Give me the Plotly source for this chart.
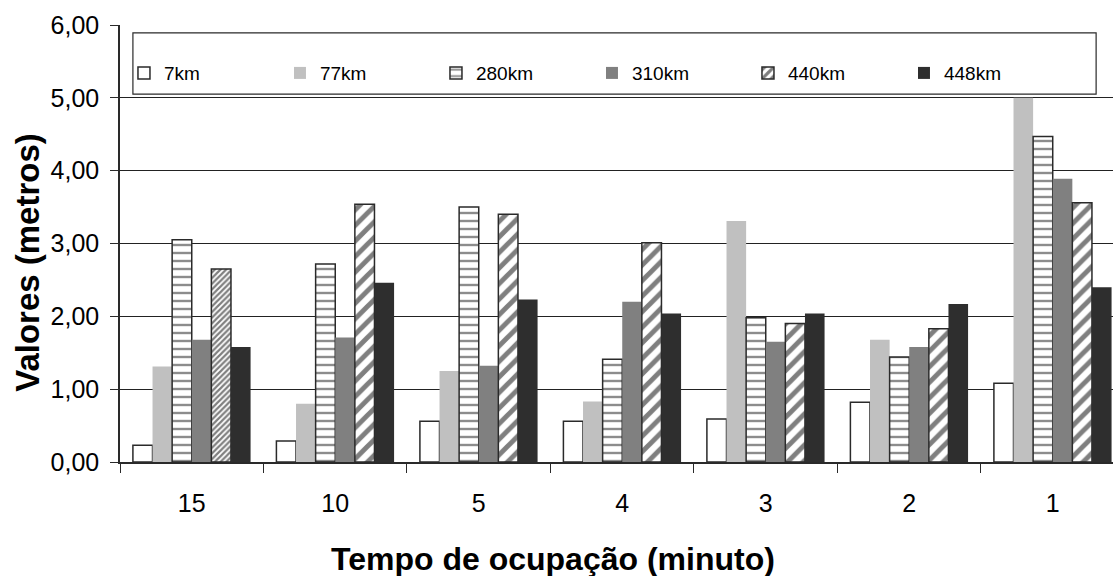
import plotly.graph_objects as go

# Categories (occupation time, minutes) and series (distance)
categorias = ["15", "10", "5", "4", "3", "2", "1"]
series = ["7km", "77km", "280km", "310km", "440km", "448km"]

v_7km = [0.23, 0.29, 0.56, 0.56, 0.59, 0.82, 1.08]
v_77km = [1.31, 0.80, 1.25, 0.83, 3.31, 1.68, 5.00]
v_280km = [3.05, 2.72, 3.50, 1.41, 1.98, 1.44, 4.47]
v_310km = [1.68, 1.71, 1.32, 2.20, 1.65, 1.58, 3.89]
v_440km = [2.65, 3.54, 3.40, 3.01, 1.90, 1.83, 3.56]
v_448km = [1.58, 2.46, 2.23, 2.04, 2.04, 2.17, 2.40]

y_ticks = [0, 1, 2, 3, 4, 5, 6]

FONT = "Arial"
EDGE = "#2a2a2a"

fig = go.Figure()

# white bars with outline
fig.add_bar(name=series[0], x=categorias, y=v_7km,
            marker=dict(color="white", line=dict(color=EDGE, width=1.5)))
# light grey
fig.add_bar(name=series[1], x=categorias, y=v_77km,
            marker=dict(color="#c0c0c0", line=dict(color="#c0c0c0", width=0)))
# horizontal stripes
fig.add_bar(name=series[2], x=categorias, y=v_280km,
            marker=dict(color="white", line=dict(color=EDGE, width=1.5),
                        pattern=dict(shape="-", fgcolor="#1a1a1a", bgcolor="white",
                                     size=8, solidity=0.3, fillmode="overlay")))
# mid grey
fig.add_bar(name=series[3], x=categorias, y=v_310km,
            marker=dict(color="#808080", line=dict(color="#808080", width=0)))
# diagonal stripes (first point uses a fine hatch)
fig.add_bar(name=series[4], x=categorias, y=v_440km,
            marker=dict(color="white", line=dict(color=EDGE, width=1.5),
                        pattern=dict(shape="/",
                                     size=[4, 11, 11, 11, 11, 11, 11],
                                     solidity=[0.55, 0.45, 0.45, 0.45, 0.45, 0.45, 0.45],
                                     fgcolor="#000000", bgcolor="white", fillmode="overlay")))
# dark
fig.add_bar(name=series[5], x=categorias, y=v_448km,
            marker=dict(color="#2e2e2e", line=dict(color="#2e2e2e", width=0)))

fig.update_layout(
    width=1113, height=576,
    margin=dict(l=120, r=0, t=25, b=114),
    paper_bgcolor="white", plot_bgcolor="white",
    barmode="group", bargap=0.18, bargroupgap=0,
    separators=",.",
    font=dict(family=FONT, color="black", size=25),
    showlegend=True,
    legend=dict(orientation="h", x=0.004, y=0.89, xanchor="left", yanchor="middle",
                bgcolor="rgba(0,0,0,0)", borderwidth=0,
                font=dict(family=FONT, size=19, color="black"),
                entrywidth=111, entrywidthmode="pixels",
                itemclick=False, traceorder="normal"),
    xaxis=dict(type="category", range=[-0.5, 6.42],
               showline=True, linecolor=EDGE, linewidth=1.5,
               ticks="outside", tickson="boundaries", ticklen=9, tickcolor=EDGE,
               ticklabelstandoff=18,
               tickfont=dict(family=FONT, size=25), showgrid=False),
    yaxis=dict(range=[0, 6], tickvals=y_ticks, tickformat=".2f",
               showline=True, linecolor=EDGE, linewidth=1.5,
               ticks="outside", ticklen=8, tickcolor=EDGE,
               ticklabelstandoff=6,
               tickfont=dict(family=FONT, size=25),
               showgrid=True, gridcolor="#222222", gridwidth=1, zeroline=False),
    shapes=[dict(type="rect", xref="paper", yref="paper",
                 x0=0.013, x1=0.983, y0=0.842, y1=0.982,
                 line=dict(color=EDGE, width=1.2), fillcolor="white", layer="above")],
    annotations=[
        dict(text="<b>Valores (metros)</b>", xref="paper", yref="paper",
             x=-0.0927, y=0.458, textangle=-90, showarrow=False,
             xanchor="center", yanchor="middle",
             font=dict(family=FONT, size=33, color="black")),
        dict(text="<b>Tempo de ocupação (minuto)</b>", xref="paper", yref="paper",
             x=0.436, y=-0.222, showarrow=False, xanchor="center", yanchor="middle",
             font=dict(family=FONT, size=32, color="black")),
    ],
)

fig.write_html("out.html")
